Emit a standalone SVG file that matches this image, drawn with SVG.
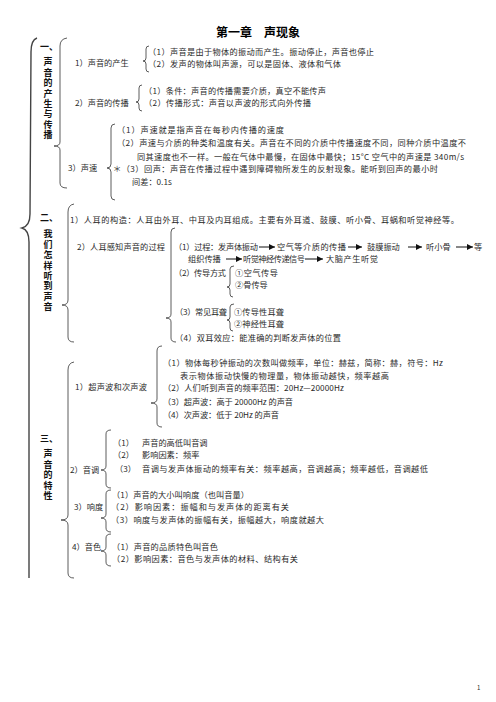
<svg xmlns="http://www.w3.org/2000/svg" width="496" height="702" viewBox="0 0 496 702">
<style>
text{font-family:"Noto Sans CJK SC","Noto Sans",sans-serif;font-size:8.2px;fill:#2a2a2a}
.t{font-size:12px;font-weight:700;fill:#000}
.v{font-size:9px;font-weight:700;fill:#111;text-anchor:middle}
.vv{font-size:9px;font-weight:700;fill:#111;writing-mode:vertical-rl;letter-spacing:1.4px}
.b{fill:none;stroke:#333;stroke-width:0.8}
.o{fill:none;stroke:#444;stroke-width:1.4}
.a{stroke:#111;stroke-width:1;marker-end:url(#ah)}
.pn{font-size:6px}
</style>
<defs>
<marker id="ah" markerUnits="userSpaceOnUse" markerWidth="6" markerHeight="6" refX="6" refY="3" orient="auto"><path d="M0,0 L6,3 L0,6 z" fill="#111"/></marker>
</defs>
<rect width="496" height="702" fill="#fff"/>
<g id="title"><text class="t" x="216" y="37">第一章　声现象</text></g>

<g id="connectors">
<path class="o" d="M37,38 Q31,40 31,52 L30,214 Q30,226 22,228 Q29,230 29,242 L29,578"/>
<path class="b" d="M67,38 Q60,39 60,46 L60,142 Q60,146 54,146 Q60,146 60,150 L60,183 Q60,188 67,188"/>
<path class="b" d="M74,204 Q68,205 68,212 L68,300 Q68,305 62,305 Q68,305 68,310 L68,337 Q68,342 74,342"/>
<path class="b" d="M74,362 Q68,363 68,370 L68,515 Q68,520 61,520 Q68,520 68,525 L68,573 Q68,578 74,578"/>
<path class="b" d="M149,46 Q146,46 146,49 L146,58 Q146,61 143,61 Q146,61 146,64 L146,69 Q146,72 149,72"/>
<path class="b" d="M142,85 Q139,85 139,88 L139,99 Q139,102 136,102 Q139,102 139,105 L139,108 Q139,111 142,111"/>
<path class="b" d="M115,124 Q111,124 111,128 L111,164 Q111,168 107,168 Q111,168 111,172 L111,196 Q111,200 115,200"/>
<path class="b" d="M175,228 Q171,228 171,232 L171,314 Q171,318 166,318 Q171,318 171,322 L171,338 Q171,342 176,342"/>
<path class="b" d="M234,266 Q230,266 230,269 L230,284 Q230,287 227,287 Q230,287 230,290 L230,294 Q230,297 233,297"/>
<path class="b" d="M234,304 Q230,304 230,307 L230,317 Q230,320 227,320 Q230,320 230,323 L230,328 Q230,331 233,331"/>
<path class="b" d="M162,346 Q157,346 157,351 L157,399 Q157,403 151,403 Q157,403 157,407 L157,423 Q157,427 162,427"/>
<path class="b" d="M111,430 Q106,430 106,434 L106,466 Q106,470 101,470 Q106,470 106,474 L106,484 Q106,488 111,488"/>
<path class="b" d="M111,490 Q106,490 106,494 L106,514 Q106,518 101,518 Q106,518 106,522 L106,528 Q106,532 111,532"/>
<path class="b" d="M111,534 Q106,534 106,538 L106,547 Q106,551 101,551 Q106,551 106,555 L106,562 Q106,566 111,566"/>
<line class="a" x1="259" y1="247" x2="275" y2="247"/>
<line class="a" x1="348" y1="247" x2="362" y2="247"/>
<line class="a" x1="408" y1="247" x2="422" y2="247"/>
<line class="a" x1="456" y1="247" x2="473" y2="247"/>
<line class="a" x1="226" y1="259" x2="242" y2="259"/>
<line class="a" x1="305" y1="259" x2="323" y2="259"/>
</g>

<g id="sec1-label">
<text class="v" x="49" y="50">一、</text>
<text class="vv" x="48" y="57.5">声音的产生与传播</text>
</g>
<g id="sec1-production">
<text x="75" y="66">1）声音的产生</text>
<text x="148" y="55" textLength="226">（1）声音是由于物体的振动而产生。振动停止，声音也停止</text>
<text x="148" y="67" textLength="193">（2）发声的物体叫声源，可以是固体、液体和气体</text>
</g>
<g id="sec1-propagation">
<text x="75" y="106">2）声音的传播</text>
<text x="144" y="94" textLength="182">（1）条件：声音的传播需要介质，真空不能传声</text>
<text x="144" y="106" textLength="167">（2）传播形式：声音以声波的形式向外传播</text>
</g>
<g id="sec1-speed">
<text x="68" y="171">3）声速</text>
<text x="117" y="133" textLength="167">（1）声速就是指声音在每秒内传播的速度</text>
<text x="117" y="146" textLength="349">（2）声速与介质的种类和温度有关。声音在不同的介质中传播速度不同，同种介质中温度不</text>
<text x="137" y="160" textLength="327">同其速度也不一样。一般在气体中最慢，在固体中最快；15°C 空气中的声速是 340m/s</text>
<text x="113" y="172" textLength="325">＊（3）回声：声音在传播过程中遇到障碍物所发生的反射现象。能听到回声的最小时</text>
<text x="132" y="185">间差：0.1s</text>
</g>

<g id="sec2-label">
<text class="v" x="49" y="221">二、</text>
<text class="vv" x="48" y="229.5">我们怎样听到声音</text>
</g>
<g id="sec2-structure">
<text x="70" y="223" textLength="389">1）人耳的构造：人耳由外耳、中耳及内耳组成。主要有外耳道、鼓膜、听小骨、耳蜗和听觉神经等。</text>
</g>
<g id="sec2-process">
<text x="77" y="250" textLength="88">2）人耳感知声音的过程</text>
<text x="174" y="250" textLength="84">（1）过程：发声体振动</text>
<text x="277" y="250" textLength="69">空气等介质的传播</text>
<text x="367" y="250">鼓膜振动</text>
<text x="426" y="250">听小骨</text>
<text x="474" y="250">等</text>
<text x="188" y="262">组织传播</text>
<text x="243" y="262" textLength="62">听觉神经传递信号</text>
<text x="326" y="262" textLength="52">大脑产生听觉</text>
<text x="174" y="276" textLength="52">（2）传导方式</text>
<text x="235" y="276" textLength="43">①空气传导</text>
<text x="235" y="288">②骨传导</text>
<text x="175" y="315" textLength="52">（3）常见耳聋</text>
<text x="234" y="315" textLength="50">①传导性耳聋</text>
<text x="234" y="327" textLength="50">②神经性耳聋</text>
<text x="175" y="341" textLength="166">（4）双耳效应：能准确的判断发声体的位置</text>
</g>

<g id="sec3-label">
<text class="v" x="49" y="442">三、</text>
<text class="vv" x="48" y="449.5">声音的特性</text>
</g>
<g id="sec3-ultrasonic">
<text x="75" y="390" textLength="72">1）超声波和次声波</text>
<text x="163" y="366" textLength="280">（1）物体每秒钟振动的次数叫做频率，单位：赫兹，简称：赫，符号：Hz</text>
<text x="180" y="379" textLength="209">表示物体振动快慢的物理量，物体振动越快，频率越高</text>
<text x="163" y="391" textLength="181">（2）人们听到声音的频率范围：20Hz—20000Hz</text>
<text x="163" y="405" textLength="130">（3）超声波：高于 20000Hz 的声音</text>
<text x="163" y="418" textLength="116">（4）次声波：低于 20Hz 的声音</text>
</g>
<g id="sec3-pitch">
<text x="70" y="473">2）音调</text>
<text x="113" y="446">（1）</text>
<text x="142" y="446">声音的高低叫音调</text>
<text x="113" y="458">（2）</text>
<text x="142" y="458">影响因素：频率</text>
<text x="115" y="472">（3）</text>
<text x="142" y="472" textLength="286">音调与发声体振动的频率有关：频率越高，音调越高；频率越低，音调越低</text>
</g>
<g id="sec3-loudness">
<text x="74" y="510">3）响度</text>
<text x="112" y="498" textLength="137">（1）声音的大小叫响度（也叫音量）</text>
<text x="111" y="510" textLength="178">（2）影响因素：振幅和与发声体的距离有关</text>
<text x="111" y="523" textLength="213">（3）响度与发声体的振幅有关，振幅越大，响度就越大</text>
</g>
<g id="sec3-timbre">
<text x="72" y="550">4）音色</text>
<text x="112" y="550" textLength="106">（1）声音的品质特色叫音色</text>
<text x="112" y="562" textLength="186">（2）影响因素：音色与发声体的材料、结构有关</text>
</g>
<g id="page-number"><text class="pn" x="477" y="690">1</text></g>
</svg>
